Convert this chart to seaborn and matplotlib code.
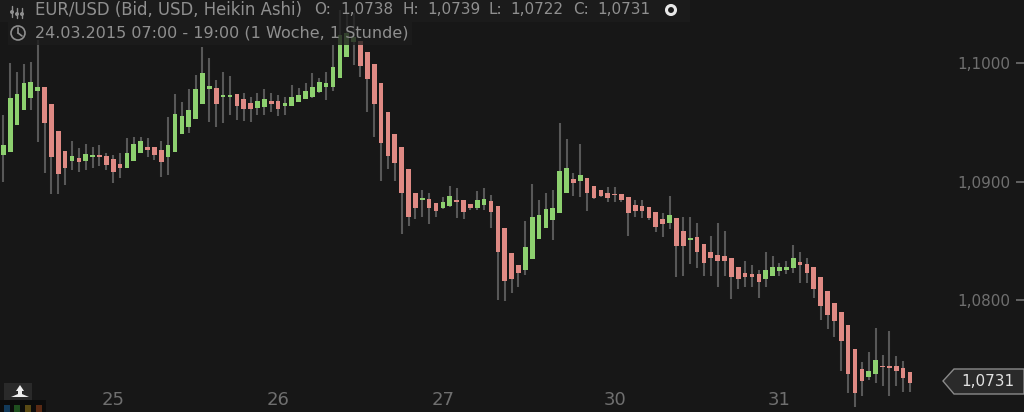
import numpy as np
import pandas as pd
import matplotlib
matplotlib.use('Agg')
import matplotlib.pyplot as plt
from matplotlib.lines import Line2D
from matplotlib.patches import Circle, Polygon, Rectangle
import seaborn as sns

# Hourly Heikin Ashi candles
opens = [1.09226, 1.09252, 1.09477, 1.09603, 1.09702, 1.09764, 1.09795, 1.09654,
         1.09429, 1.09260, 1.09176, 1.09201, 1.09176, 1.09204, 1.09221, 1.09218,
         1.09190, 1.09145, 1.09117, 1.09176, 1.09238, 1.09294, 1.09291, 1.09266,
         1.09204, 1.09252, 1.09401, 1.09463, 1.09527, 1.09654, 1.09778, 1.09792,
         1.09716, 1.09716, 1.09741, 1.09693, 1.09665, 1.09623, 1.09632, 1.09679,
         1.09677, 1.09640, 1.09637, 1.09674, 1.09693, 1.09716, 1.09755, 1.09795,
         1.09800, 1.09876, 1.10053, 1.10180, 1.10189, 1.10096, 1.09992, 1.09828,
         1.09589, 1.09401, 1.09294, 1.09103, 1.08906, 1.08844, 1.08855, 1.08821,
         1.08774, 1.08793, 1.08841, 1.08841, 1.08807, 1.08774, 1.08802, 1.08833,
         1.08796, 1.08605, 1.08394, 1.08295, 1.08253, 1.08343, 1.08512, 1.08610,
         1.08675, 1.08731, 1.08906, 1.09018, 1.09004, 1.09032, 1.08965, 1.08928,
         1.08906, 1.08895, 1.08895, 1.08866, 1.08802, 1.08793, 1.08782, 1.08743,
         1.08681, 1.08653, 1.08692, 1.08582, 1.08506, 1.08532, 1.08470, 1.08405,
         1.08377, 1.08369, 1.08354, 1.08278, 1.08228, 1.08217, 1.08217, 1.08177,
         1.08203, 1.08242, 1.08253, 1.08267, 1.08318, 1.08304, 1.08278, 1.08191,
         1.08079, 1.07977, 1.07902, 1.07789, 1.07589, 1.07415, 1.07353, 1.07376,
         1.07446, 1.07446, 1.07443, 1.07429, 1.07390]
closes = [1.09305, 1.09702, 1.09738, 1.09828, 1.09843, 1.09800, 1.09491, 1.09204,
          1.09063, 1.09117, 1.09215, 1.09162, 1.09232, 1.09221, 1.09210, 1.09139,
          1.09077, 1.09111, 1.09243, 1.09316, 1.09345, 1.09266, 1.09224, 1.09162,
          1.09305, 1.09567, 1.09553, 1.09603, 1.09778, 1.09916, 1.09806, 1.09651,
          1.09730, 1.09733, 1.09640, 1.09615, 1.09615, 1.09677, 1.09693, 1.09651,
          1.09615, 1.09662, 1.09716, 1.09733, 1.09767, 1.09800, 1.09843, 1.09828,
          1.09969, 1.10236, 1.10250, 1.10222, 1.09978, 1.09865, 1.09654, 1.09328,
          1.09218, 1.09153, 1.08906, 1.08703, 1.08774, 1.08858, 1.08774, 1.08751,
          1.08830, 1.08878, 1.08824, 1.08740, 1.08774, 1.08844, 1.08855, 1.08740,
          1.08402, 1.08163, 1.08177, 1.08225, 1.08444, 1.08703, 1.08717, 1.08765,
          1.08779, 1.09091, 1.09117, 1.08990, 1.09055, 1.08906, 1.08858, 1.08878,
          1.08864, 1.08886, 1.08844, 1.08731, 1.08754, 1.08754, 1.08695, 1.08613,
          1.08641, 1.08717, 1.08456, 1.08456, 1.08526, 1.08405, 1.08315, 1.08352,
          1.08329, 1.08329, 1.08191, 1.08177, 1.08191, 1.08191, 1.08152, 1.08253,
          1.08278, 1.08278, 1.08278, 1.08354, 1.08293, 1.08228, 1.08090, 1.07952,
          1.07876, 1.07826, 1.07651, 1.07376, 1.07212, 1.07314, 1.07401, 1.07494,
          1.07432, 1.07429, 1.07404, 1.07339, 1.07302]
highs = [1.09561, 1.10003, 1.09927, 1.09992, 1.10011, 1.10194, 1.09795, 1.09654,
         1.09429, 1.09260, 1.09345, 1.09280, 1.09316, 1.09294, 1.09308, 1.09238,
         1.09224, 1.09243, 1.09364, 1.09378, 1.09373, 1.09364, 1.09291, 1.09345,
         1.09542, 1.09738, 1.09674, 1.09778, 1.09899, 1.10138, 1.10039, 1.09857,
         1.09927, 1.09890, 1.09741, 1.09744, 1.09716, 1.09744, 1.09778, 1.09744,
         1.09730, 1.09716, 1.09814, 1.09786, 1.09828, 1.09913, 1.09871, 1.09927,
         1.10152, 1.10447, 1.10419, 1.10419, 1.10189, 1.10096, 1.09992, 1.09828,
         1.09589, 1.09401, 1.09294, 1.09103, 1.08906, 1.08928, 1.08900, 1.08821,
         1.08872, 1.08965, 1.08942, 1.08841, 1.08807, 1.08920, 1.08942, 1.08886,
         1.08796, 1.08605, 1.08394, 1.08295, 1.08667, 1.08979, 1.08844, 1.08906,
         1.08928, 1.09491, 1.09356, 1.09069, 1.09316, 1.09032, 1.08965, 1.08928,
         1.08956, 1.08956, 1.08895, 1.08866, 1.08844, 1.08844, 1.08782, 1.08743,
         1.08737, 1.08878, 1.08692, 1.08703, 1.08703, 1.08647, 1.08470, 1.08543,
         1.08647, 1.08582, 1.08354, 1.08278, 1.08329, 1.08293, 1.08253, 1.08405,
         1.08369, 1.08315, 1.08329, 1.08467, 1.08405, 1.08354, 1.08278, 1.08191,
         1.08079, 1.07977, 1.07902, 1.07789, 1.07589, 1.07477, 1.07564, 1.07767,
         1.07539, 1.07741, 1.07527, 1.07488, 1.07390]
lows = [1.08999, 1.09252, 1.09477, 1.09603, 1.09603, 1.09336, 1.09075, 1.08892,
        1.08892, 1.08968, 1.09097, 1.09083, 1.09097, 1.09111, 1.09134, 1.09097,
        1.08990, 1.09027, 1.09111, 1.09176, 1.09238, 1.09210, 1.09181, 1.09041,
        1.09055, 1.09252, 1.09401, 1.09407, 1.09527, 1.09654, 1.09505, 1.09463,
        1.09491, 1.09561, 1.09519, 1.09513, 1.09505, 1.09561, 1.09561, 1.09589,
        1.09553, 1.09561, 1.09637, 1.09674, 1.09693, 1.09702, 1.09750, 1.09688,
        1.09767, 1.09876, 1.10053, 1.09983, 1.09879, 1.09589, 1.09373, 1.09004,
        1.09106, 1.09004, 1.08554, 1.08627, 1.08681, 1.08703, 1.08641, 1.08703,
        1.08765, 1.08788, 1.08689, 1.08681, 1.08760, 1.08760, 1.08760, 1.08605,
        1.08000, 1.07992, 1.08056, 1.08107, 1.08211, 1.08343, 1.08512, 1.08610,
        1.08506, 1.08731, 1.08906, 1.08878, 1.08866, 1.08754, 1.08850, 1.08872,
        1.08830, 1.08830, 1.08830, 1.08543, 1.08703, 1.08689, 1.08675, 1.08577,
        1.08534, 1.08596, 1.08191, 1.08203, 1.08304, 1.08267, 1.08203, 1.08203,
        1.08107, 1.08203, 1.08006, 1.08093, 1.08107, 1.08107, 1.08014, 1.08107,
        1.08203, 1.08203, 1.08217, 1.08231, 1.08141, 1.08141, 1.08014, 1.07831,
        1.07752, 1.07691, 1.07401, 1.07212, 1.07094, 1.07190, 1.07325, 1.07302,
        1.07277, 1.07190, 1.07277, 1.07226, 1.07226]

# Axis labels
price_ticks = [1.1000, 1.0900, 1.0800]
price_labels = ['1,1000', '1,0900', '1,0800']
day_ticks = [16, 40, 64, 89, 113]
day_labels = ['25', '26', '27', '30', '31']

# Header text
title_text = 'EUR/USD (Bid, USD, Heikin Ashi)'
ohlc_names = ['O:', 'H:', 'L:', 'C:']
ohlc_values = ['1,0738', '1,0739', '1,0722', '1,0731']
range_text = '24.03.2015 07:00 - 19:00 (1 Woche, 1 Stunde)'
last_price = '1,0731'

BG = '#171717'
GREEN = '#8dd06f'
RED = '#df8a84'
WICK = '#585858'
TEXT = '#8f8f8f'

sns.set_theme(style='dark', rc={'axes.facecolor': BG, 'figure.facecolor': BG})
# The reference text is set wide, DejaVu gets the widths closest
plt.rcParams['font.family'] = ['DejaVu Sans']

df = pd.DataFrame({'open': opens, 'close': closes, 'high': highs, 'low': lows})
df['idx'] = np.arange(len(df))
df['bottom'] = df[['open', 'close']].min(axis=1)
df['height'] = (df['open'] - df['close']).abs()
df['up'] = df['close'] >= df['open']

fig = plt.figure(figsize=(10.24, 4.12), dpi=100)
ax = fig.add_axes([0, 0, 1, 1])

# Wicks first, bodies on top
ax.vlines(df['idx'], df['low'], df['high'], color=WICK, lw=1.5, zorder=1)
for is_up, color in [(True, GREEN), (False, RED)]:
    part = df[df['up'] == is_up]
    sns.barplot(data=part, x='idx', y='height', bottom=part['bottom'].values,
                native_scale=True, color=color, width=0.68, saturation=1,
                linewidth=0, errorbar=None, ax=ax, zorder=2)

ax.set_xlim(-0.48, 148.6)
ax.set_ylim(1.07055, 1.10532)
ax.grid(False)
for side in ax.spines.values():
    side.set_visible(False)
ax.set_xlabel('')
ax.set_ylabel('')

# Ticks sit inside the plot because the axes fill the figure
ax.yaxis.tick_right()
ax.set_yticks(price_ticks, price_labels)
ax.tick_params(axis='y', direction='in', length=6, width=1.2, color='#6f6f6f',
               pad=-48, labelsize=11, labelcolor='#6f6f6f')
ax.set_xticks(day_ticks, day_labels)
ax.tick_params(axis='x', direction='in', length=3, width=1, color='#777777',
               pad=-15, labelsize=13, labelcolor='#6f6f6f')


# Helpers for the chrome, in picture pixels from the top left
def fx(x):
    return x / 1024


def fy(y):
    return 1 - y / 412


def box(x0, y0, x1, y1, **kw):
    fig.add_artist(Rectangle((fx(x0), fy(y1)), (x1 - x0) / 1024, (y1 - y0) / 412,
                             transform=fig.transFigure, **kw))


def seg(x0, y0, x1, y1, color=TEXT, lw=1.2):
    fig.add_artist(Line2D([fx(x0), fx(x1)], [fy(y0), fy(y1)], color=color, lw=lw,
                          transform=fig.transFigure))


# Header bars
box(0, 0, 690, 22, color='#1d1d1d', alpha=0.8, lw=0)
box(8, 22, 412, 45, color='#1d1d1d', alpha=0.8, lw=0)
fig.text(fx(35), fy(10), title_text, color=TEXT, fontsize=11.9, va='center')
fig.text(fx(35), fy(33), range_text, color=TEXT, fontsize=11.5, va='center')
for x, name in zip([314, 402, 489, 573], ohlc_names):
    fig.text(fx(x), fy(10), name, color=TEXT, fontsize=11, va='center')
for x, value in zip([340, 427, 510, 597], ohlc_values):
    fig.text(fx(x), fy(10), value, color=TEXT, fontsize=11, va='center')

# Candle icon and clock icon
for x, y0, y1, knob in [(12, 6, 17, 12), (17, 8, 18, 14), (22, 8, 18, 14)]:
    seg(x, y0, x, y1, lw=1.0)
    fig.add_artist(Circle((x, 412 - knob), 2, transform=None, fc=TEXT, ec='none'))
fig.add_artist(Circle((18, 412 - 33), 7, transform=None, fill=False, ec=TEXT, lw=1.2))
seg(18, 28, 18, 33)
seg(18, 33, 22, 36)

# Small white dot after the OHLC values
fig.add_artist(Circle((671, 412 - 10), 4.5, transform=None, fc='none', ec='#e8e8e8', lw=2.2))

# Last price tag
fig.add_artist(Polygon([(fx(943), fy(381)), (fx(954), fy(369)), (fx(1024), fy(369)),
                        (fx(1024), fy(394)), (fx(954), fy(394))],
                       transform=fig.transFigure, fc='#2a2a2a', ec='#8a8a8a', lw=1))
fig.text(fx(961), fy(381), last_price, color='#e2e2e2', fontsize=11, va='center')

# Move icon and the colour dots bottom left
box(4, 383, 32, 412, color='#2a2a2a', lw=0)
fig.add_artist(Polygon([(fx(20), fy(385)), (fx(24), fy(391)), (fx(22), fy(391)), (fx(22), fy(394)),
                        (fx(29), fy(397)), (fx(11), fy(397)), (fx(18), fy(394)), (fx(18), fy(391)),
                        (fx(16), fy(391))],
                       transform=fig.transFigure, fc='#f0f0f0', ec='none'))
box(0, 400, 46, 412, color='#0c0c0c', lw=0)
for x, color in [(7, '#123a5a'), (17, '#1f4f1f'), (28, '#5a4a14'), (39, '#5a2a14')]:
    box(x - 3, 405, x + 3, 412, color=color, lw=0)

fig.savefig('out.png', dpi=100, facecolor=BG)
